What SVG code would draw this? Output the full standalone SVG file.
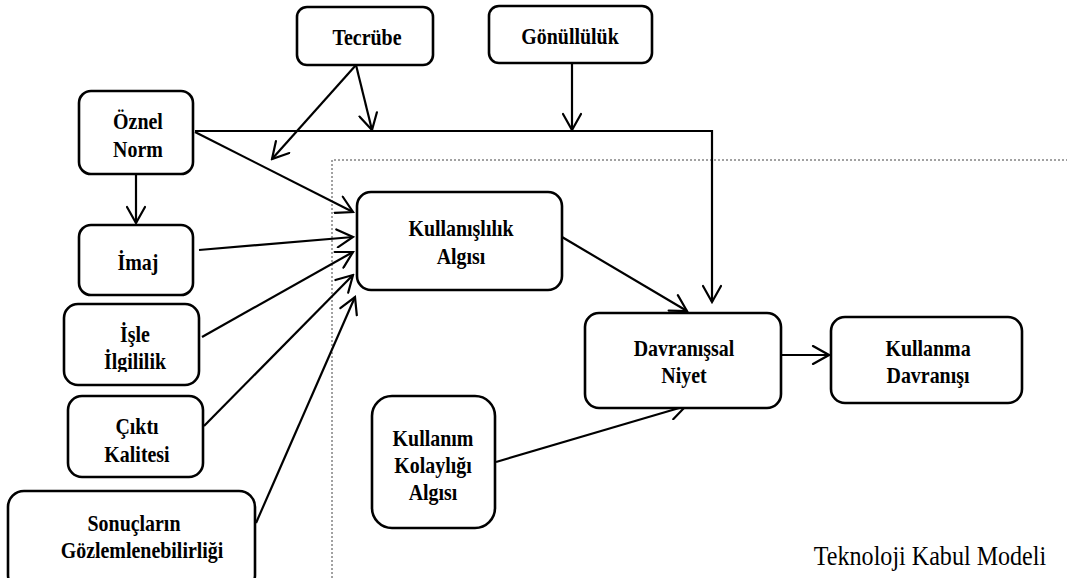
<svg xmlns="http://www.w3.org/2000/svg" width="1067" height="578" viewBox="0 0 1067 578">
  <style>
    .box { fill: #fff; stroke: #000; stroke-width: 2.6; }
    .lbl { font-weight: bold; font-size: 24px; fill: #000; text-anchor: middle; }
    .cap { font-size: 28px; fill: #000; text-anchor: middle; }
    .edge { fill: none; stroke: #000; stroke-width: 2.2; }
    .frame { fill: none; stroke: #444; stroke-width: 1; stroke-dasharray: 2 2; }
  </style>
  <defs>
    <marker id="arrow" viewBox="0 0 20 20" refX="18" refY="10" markerWidth="20" markerHeight="20" markerUnits="userSpaceOnUse" orient="auto">
      <path d="M2,1 L18,10 L2,19" fill="none" stroke="#000" stroke-width="2.2" stroke-linecap="round"/>
    </marker>
    <clipPath id="clip-isle">
      <rect x="64" y="304" width="135" height="68"/>
    </clipPath>
  </defs>

  <rect width="1067" height="578" fill="#fff"/>

  <!-- dotted frame of the core model -->
  <path class="frame" d="M332,578 V160 H1067"/>

  <!-- connectors -->
  <g id="connectors">
    <line class="edge" x1="356" y1="65" x2="272" y2="159" marker-end="url(#arrow)"/>
    <line class="edge" x1="356" y1="65" x2="372" y2="130" marker-end="url(#arrow)"/>
    <line class="edge" x1="572" y1="63" x2="572" y2="130" marker-end="url(#arrow)"/>
    <polyline class="edge" points="195,131 712,131 712,302" marker-end="url(#arrow)"/>
    <line class="edge" x1="195" y1="132" x2="353" y2="212" marker-end="url(#arrow)"/>
    <line class="edge" x1="136" y1="174" x2="136" y2="223" marker-end="url(#arrow)"/>
    <line class="edge" x1="199" y1="250" x2="353" y2="237" marker-end="url(#arrow)"/>
    <line class="edge" x1="202" y1="337" x2="353" y2="252" marker-end="url(#arrow)"/>
    <line class="edge" x1="204" y1="426" x2="353" y2="275" marker-end="url(#arrow)"/>
    <line class="edge" x1="256" y1="523" x2="355" y2="297" marker-end="url(#arrow)"/>
    <line class="edge" x1="562" y1="237" x2="687" y2="311" marker-end="url(#arrow)"/>
    <line class="edge" x1="496" y1="462" x2="686" y2="406" marker-end="url(#arrow)"/>
    <line class="edge" x1="781" y1="355" x2="829" y2="355" marker-end="url(#arrow)"/>
  </g>

  <g font-family="Liberation Serif, Times New Roman, serif">
    <g id="tecrube">
      <rect class="box" x="297" y="7" width="136" height="58" rx="10"/>
      <text class="lbl" transform="translate(367,45) scale(0.83,1)">Tecrübe</text>
    </g>

    <g id="gonulluluk">
      <rect class="box" x="489" y="6" width="163" height="57" rx="10"/>
      <text class="lbl" transform="translate(570,44) scale(0.83,1)">Gönüllülük</text>
    </g>

    <g id="oznel-norm">
      <rect class="box" x="79" y="91" width="114" height="83" rx="12"/>
      <text class="lbl" transform="translate(138,129) scale(0.83,1)">Öznel</text>
      <text class="lbl" transform="translate(138,157) scale(0.83,1)">Norm</text>
    </g>

    <g id="imaj">
      <rect class="box" x="79" y="225" width="114" height="70" rx="12"/>
      <text class="lbl" transform="translate(138,270) scale(0.83,1)">İmaj</text>
    </g>

    <g id="isle-ilgililik">
      <rect class="box" x="64" y="304" width="135" height="81" rx="14"/>
      <g clip-path="url(#clip-isle)">
        <text class="lbl" transform="translate(135,342) scale(0.83,1)">İşle</text>
        <text class="lbl" transform="translate(135,369) scale(0.83,1)">İlgililik</text>
      </g>
    </g>

    <g id="cikti-kalitesi">
      <rect class="box" x="68" y="396" width="135" height="81" rx="14"/>
      <text class="lbl" transform="translate(137,434) scale(0.83,1)">Çıktı</text>
      <text class="lbl" transform="translate(137,462) scale(0.83,1)">Kalitesi</text>
    </g>

    <g id="sonuclarin-gozlemlenebilirligi">
      <rect class="box" x="8" y="491" width="247" height="100" rx="16"/>
      <text class="lbl" transform="translate(134,531) scale(0.83,1)">Sonuçların</text>
      <text class="lbl" transform="translate(142,558) scale(0.83,1)">Gözlemlenebilirliği</text>
    </g>

    <g id="kullanislilik-algisi">
      <rect class="box" x="357" y="192" width="205" height="98" rx="14"/>
      <text class="lbl" transform="translate(461,236) scale(0.83,1)">Kullanışlılık</text>
      <text class="lbl" transform="translate(461,264) scale(0.83,1)">Algısı</text>
    </g>

    <g id="davranissal-niyet">
      <rect class="box" x="585" y="313" width="196" height="95" rx="14"/>
      <text class="lbl" transform="translate(684,356) scale(0.83,1)">Davranışsal</text>
      <text class="lbl" transform="translate(684,383) scale(0.83,1)">Niyet</text>
    </g>

    <g id="kullanma-davranisi">
      <rect class="box" x="831" y="317" width="191" height="86" rx="14"/>
      <text class="lbl" transform="translate(928,356) scale(0.83,1)">Kullanma</text>
      <text class="lbl" transform="translate(928,383) scale(0.83,1)">Davranışı</text>
    </g>

    <g id="kullanim-kolayligi-algisi">
      <rect class="box" x="372" y="396" width="123" height="132" rx="20"/>
      <text class="lbl" transform="translate(433,446) scale(0.83,1)">Kullanım</text>
      <text class="lbl" transform="translate(433,473) scale(0.83,1)">Kolaylığı</text>
      <text class="lbl" transform="translate(433,500) scale(0.83,1)">Algısı</text>
    </g>

    <text class="cap" transform="translate(930,565) scale(0.86,1)">Teknoloji Kabul Modeli</text>
  </g>
</svg>
